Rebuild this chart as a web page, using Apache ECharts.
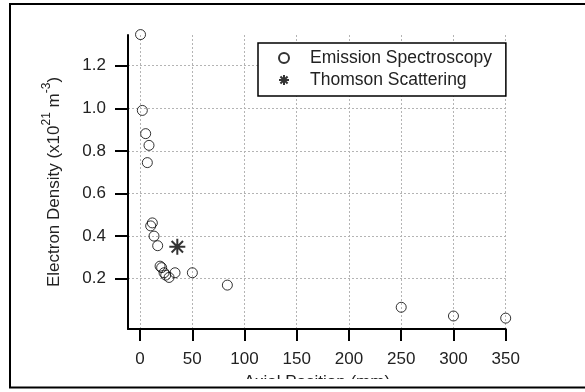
<!DOCTYPE html>
<html>
<head>
<meta charset="utf-8">
<script src="https://cdn.jsdelivr.net/npm/echarts@6/dist/echarts.min.js"></script>
<style>
  html, body { margin: 0; padding: 0; background: #fff; }
  #chart { width: 585px; height: 392px; }
</style>
</head>
<body>
<div id="chart"></div>
<script>
// emission spectroscopy points (axial position mm, density x1e21 m^-3)
const emissionX = [0.5, 2.2, 5.4, 8.6, 7.0, 11.8, 10.2, 13.4, 16.9, 19.2, 20.7, 23.0, 24.6, 27.8, 33.5, 50.1, 83.6, 250, 300, 350];
const emissionY = [1.346, 0.99, 0.881, 0.826, 0.745, 0.462, 0.448, 0.400, 0.355, 0.259, 0.252, 0.228, 0.217, 0.206, 0.228, 0.228, 0.170, 0.066, 0.025, 0.015];
// thomson scattering point
const thomsonX = [35.7];
const thomsonY = [0.35];
const xTicks = [0, 50, 100, 150, 200, 250, 300, 350];
const yTicks = [0.2, 0.4, 0.6, 0.8, 1.0, 1.2];

const font = "'Liberation Sans', Arial, sans-serif";
const starPath = "path://M0,-8L0,8M-8,0L8,0M-5.7,-5.7L5.7,5.7M-5.7,5.7L5.7,-5.7";

let chart = echarts.init(document.getElementById("chart"), null, { renderer: "canvas" });

let emissionData = [];
for (let i = 0; i < emissionX.length; i++) {
  emissionData.push([emissionX[i], emissionY[i]]);
}
let thomsonData = [];
for (let i = 0; i < thomsonX.length; i++) {
  thomsonData.push([thomsonX[i], thomsonY[i]]);
}

let options = {
  animation: false,
  backgroundColor: "#fff",
  textStyle: { fontFamily: font },
  grid: {
    left: 128,
    right: 79.3,
    top: 35,
    bottom: 63,
    outerBoundsMode: "none",
    containLabel: false,
  },
  legend: {
    orient: "vertical",
    left: 258,
    top: 43,
    itemWidth: 42,
    itemHeight: 10,
    itemGap: 4,
    padding: [6, 14, 7, 20],
    borderColor: "#000",
    borderWidth: 1.5,
    borderRadius: 0,
    backgroundColor: "#fff",
    selectedMode: false,
    textStyle: {
      fontSize: 17.5,
      color: "#222",
      fontFamily: font,
    },
    data: ["Emission Spectroscopy", "Thomson Scattering"],
  },
  xAxis: {
    type: "value",
    min: -11.5,
    max: 350,
    name: "Axial Position (mm)",
    nameLocation: "middle",
    nameGap: 45,
    nameTextStyle: { fontSize: 17, color: "#222", fontFamily: font },
    axisLine: { show: true, onZero: false, lineStyle: { color: "#000", width: 2 } },
    axisTick: {
      show: true,
      length: 12,
      customValues: xTicks,
      lineStyle: { color: "#000", width: 2 },
    },
    axisLabel: {
      customValues: xTicks,
      margin: 22,
      fontSize: 17,
      color: "#222",
      fontFamily: font,
    },
    splitLine: {
      show: true,
      lineStyle: { color: "#b4b4b4", width: 1, type: [2, 2] },
    },
  },
  yAxis: {
    type: "value",
    min: -0.036,
    max: 1.344,
    name: "{n|Electron Density (x10}{s|21}{n| m}{s|-3}{n|)}",
    nameLocation: "middle",
    nameGap: 65,
    nameRotate: 90,
    nameTextStyle: {
      color: "#222",
      fontFamily: font,
      rich: {
        n: { fontSize: 17, lineHeight: 22, verticalAlign: "bottom", color: "#222", fontFamily: font },
        s: { fontSize: 12, lineHeight: 22, verticalAlign: "top", color: "#222", fontFamily: font },
      },
    },
    axisLine: { show: true, onZero: false, lineStyle: { color: "#000", width: 2 } },
    axisTick: {
      show: true,
      length: 13,
      customValues: yTicks,
      lineStyle: { color: "#000", width: 2 },
    },
    axisLabel: {
      customValues: yTicks,
      margin: 22,
      fontSize: 17,
      color: "#222",
      fontFamily: font,
      formatter: (v) => v.toFixed(1),
    },
    splitLine: {
      show: true,
      lineStyle: { color: "#b4b4b4", width: 1, type: [2, 2] },
    },
  },
  graphic: [
    {
      // hides the lower half of the x axis title, like the original export
      type: "rect",
      z: 100,
      shape: { x: 0, y: 379, width: 585, height: 13 },
      style: { fill: "#fff" },
    },
    {
      type: "rect",
      z: 101,
      shape: { x: 10, y: 4, width: 600, height: 383.5 },
      style: { fill: "none", stroke: "#000", lineWidth: 2 },
    },
  ],
  series: [
    {
      name: "Emission Spectroscopy",
      type: "scatter",
      clip: false,
      symbol: "circle",
      symbolSize: 10,
      data: emissionData,
      itemStyle: {
        color: "rgba(255,255,255,0)",
        borderColor: "#000",
        borderWidth: 1,
      },
    },
    {
      name: "Thomson Scattering",
      type: "scatter",
      clip: false,
      symbol: starPath,
      symbolSize: 16,
      data: thomsonData,
      itemStyle: {
        color: "#000",
        borderColor: "#000",
        borderWidth: 2,
      },
    },
  ],
};
chart.setOption(options);
</script>
</body>
</html>
